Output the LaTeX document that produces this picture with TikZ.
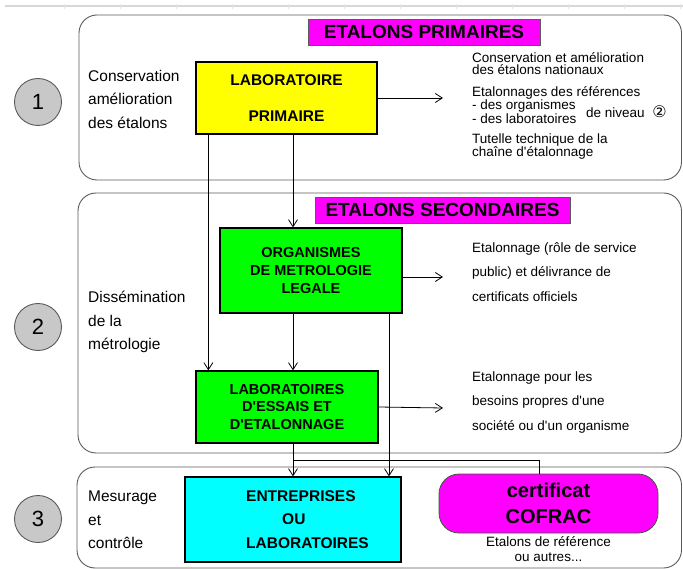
\documentclass[tikz,border=0pt]{standalone}
\usepackage{fontspec}
\setmainfont{Liberation Sans}
\newfontfamily\symbfont{DejaVu Sans}
\usetikzlibrary{arrows.meta, calc, positioning}
\definecolor{cadre}{RGB}{90, 90, 90}
\definecolor{jaune}{RGB}{255, 255, 0}
\definecolor{vert}{RGB}{0, 255, 0}
\definecolor{turquoise}{RGB}{0, 255, 255}
\definecolor{rose}{RGB}{255, 0, 255}
\definecolor{gris}{RGB}{200, 200, 200}
\definecolor{regle}{RGB}{215, 215, 215}
\definecolor{bordcofrac}{RGB}{60, 90, 60}
\newcommand{\apos}{\textquotesingle}

\begin{document}
\begin{tikzpicture}[x=1pt, y=-1pt]

\tikzstyle{panneau} = [draw=cadre, line width=0.9pt, rounded corners=18pt]
\tikzstyle{rond} = [draw=cadre, fill=gris, circle, line width=0.9pt, minimum size=47pt, inner sep=0pt, font=\fontsize{22}{24}\selectfont]
\tikzstyle{annot} = [anchor=west, align=left, inner sep=0pt, font=\fontsize{15.5}{23.5}\selectfont]
\tikzstyle{note} = [anchor=west, align=left, inner sep=0pt, font=\fontsize{13.5}{12.5}\selectfont]
\tikzstyle{boite} = [draw=black, line width=1.3pt, inner sep=0pt, align=center, font=\bfseries\fontsize{15}{18}\selectfont]
\tikzstyle{titre} = [draw=cadre, fill=rose, line width=0.8pt, inner sep=0pt, minimum height=26pt, font=\bfseries\fontsize{19}{20}\selectfont]
\tikzstyle{fleche} = [-{Straight Barb[length=7pt, width=9pt]}, line width=0.8pt]

\useasboundingbox (0,0) rectangle (683,569);

% regle du haut
\draw [regle, line width=2pt] (5,6) -- (683,6);
\foreach \x in {64, 120, ..., 680}{
  \draw [regle!70, line width=0.5pt] (\x,4) -- (\x,9);
}

% trois niveaux
\draw [panneau] (79,15) rectangle (681.5,180);
\draw [panneau] (78,193) rectangle (681.5,453);
\draw [panneau] (77,467) rectangle (681.5,568);

\foreach \n/\y in {1/102, 2/327, 3/519}{
  \node [rond] (niv\n) at (38,\y) {\n};
}

\node [annot] (role1) at (88,99) {Conservation\\amélioration\\des étalons};
\node [annot] (role2) at (88,322) {Dissémination\\de la\\métrologie};
\node [annot] (role3) at (88,520) {Mesurage\\et\\contrôle};

\node [titre, minimum width=232pt] (primaires) at (424,32) {ETALONS PRIMAIRES};
\node [titre, minimum width=255pt] (secondaires) at (442.5,210) {ETALONS SECONDAIRES};

\node [boite, fill=jaune, minimum width=181pt, minimum height=72pt, font=\bfseries\fontsize{15.5}{36}\selectfont] (primaire) at (286.5,98) {LABORATOIRE\\PRIMAIRE};
\node [boite, fill=vert, minimum width=182pt, minimum height=85pt, font=\bfseries\fontsize{14.5}{18}\selectfont] (legale) at (311,270.5) {ORGANISMES\\DE METROLOGIE\\LEGALE};
\node [boite, fill=vert, minimum width=182pt, minimum height=72pt, font=\bfseries\fontsize{14.5}{17.5}\selectfont] (essais) at (287,407) {LABORATOIRES\\D\apos ESSAIS ET\\D\apos ETALONNAGE};
\node [boite, fill=turquoise, minimum width=216pt, minimum height=85pt, align=left, font=\bfseries\fontsize{15.5}{23.5}\selectfont] (entreprises) at (293,519.5) {\hspace*{29pt}ENTREPRISES\\\hspace*{65pt}OU\\\hspace*{29pt}LABORATOIRES};
\node [draw=bordcofrac, fill=rose, line width=0.8pt, rounded corners=20pt, minimum width=219pt, minimum height=59pt, inner sep=0pt, align=center, font=\bfseries\fontsize{20}{26}\selectfont] (cofrac) at (548.5,503.5) {certificat\\COFRAC};

% textes de droite
\node [note] (missions) at (472,63.5) {Conservation et amélioration\\des étalons nationaux};
\node [note, font=\fontsize{13.5}{12}\selectfont] (references) at (472,105) {Etalonnages des références\\- des organismes\\- des laboratoires};
\node [note] (niveau) at (586,112) {de niveau \ {\symbfont\fontsize{16}{16}\selectfont ②}};
\node [note] (tutelle) at (472,146.5) {Tutelle technique de la\\chaîne d\apos étalonnage};
\node [note, font=\fontsize{13.5}{24.5}\selectfont] (officiels) at (472,272) {Etalonnage (rôle de service\\public) et délivrance de\\certificats officiels};
\node [note, font=\fontsize{13.5}{24.5}\selectfont] (besoins) at (472,402.5) {Etalonnage pour les\\besoins propres d\apos une\\société ou d\apos un organisme};
\node [note, align=center, font=\fontsize{13.5}{15}\selectfont, below=3pt of cofrac] (autres) {Etalons de référence\\ou autres...};

% liaisons
\coordinate (axe) at (293,0);
\coordinate (axe2) at (389,0);
\coordinate (bif) at (293,460);
\coordinate (r1) at (443,98);
\coordinate (r2) at (443,277);
\coordinate (r3) at (443,408);

\draw [fleche] (primaire.east) -- (r1);
\draw [fleche] ([xshift=13pt]primaire.south west) -- ([xshift=13pt]essais.north west);
\draw [fleche] (primaire.south -| axe) -- (legale.north -| axe);
\draw [fleche] (legale.south -| axe) -- (essais.north -| axe);
\draw [fleche] (essais.south -| axe) -- (entreprises.north -| axe);
\draw [fleche] (legale.south -| axe2) -- (entreprises.north -| axe2);
\draw [fleche] (legale.east |- r2) -- (r2);
\draw [fleche] (essais.east) -- (r3);
\draw [line width=0.8pt] (bif) -| ([xshift=-9.5pt]cofrac.north);

\end{tikzpicture}
\end{document}
